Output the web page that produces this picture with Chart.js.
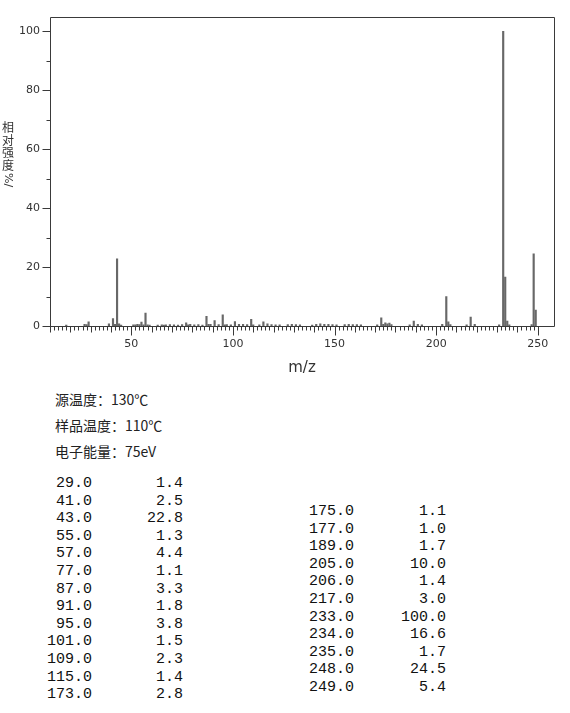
<!DOCTYPE html>
<html>
<head>
<meta charset="utf-8">
<script src="https://cdn.jsdelivr.net/npm/chart.js@4/dist/chart.umd.min.js"></script>
<style>
  body { margin: 0; background: #fff; }
  #page { position: relative; width: 570px; height: 713px; overflow: hidden; }
  #msChart { position: absolute; left: 0; top: 0; }
  .ytitle {
    position: absolute; left: 1px; top: 121px; width: 14px;
    font: 12px/12.5px "Noto Sans CJK SC"; color: #333; text-align: center;
  }
  .ytitle span { display: block; }
  .ytitle .rot { writing-mode: vertical-rl; margin: 2px auto 0; font-family: "DejaVu Sans"; font-size: 11px; line-height: 14px; }
  .cond { position: absolute; left: 55px; font: 14px/26px "Noto Sans CJK SC"; color: #222; }
  .col {
    position: absolute; text-align: right; white-space: pre;
    font: 15px/17.6px "Liberation Mono", monospace; color: #111;
  }
</style>
</head>
<body>
<div id="page">
  <canvas id="msChart" width="570" height="380"></canvas>
  <div class="ytitle"><span>相</span><span>对</span><span>强</span><span>度</span><span class="rot">%/</span></div>
  <div class="cond" style="top:386px">源温度：130℃</div>
  <div class="cond" style="top:412px">样品温度：110℃</div>
  <div class="cond" style="top:438px">电子能量：75eV</div>
  <div id="tableCols"></div>
</div>
<script>
// m/z and relative intensity (%)
const mzValues = [18, 27, 28, 29, 39, 41, 42, 43, 44, 45, 51, 52, 53, 54, 55, 56, 57, 58, 59,
  63, 65, 66, 67, 69, 71, 73, 75, 77, 78, 79, 81, 83, 85, 87, 88, 89, 91, 93, 95, 96, 97, 99,
  101, 103, 105, 107, 109, 110, 113, 115, 117, 119, 121, 123, 127, 129, 131, 133, 139, 141,
  143, 145, 147, 149, 151, 155, 157, 159, 161, 163, 171, 173, 174, 175, 176, 177, 178, 187,
  189, 191, 193, 203, 205, 206, 207, 215, 217, 219, 231, 233, 234, 235, 236, 247, 248, 249];
const relIntensity = [0.3, 0.6, 0.5, 1.4, 0.7, 2.5, 0.6, 22.8, 0.7, 0.3, 0.4, 0.4, 0.6, 0.5, 1.3, 0.4, 4.4, 0.4, 0.3,
  0.3, 0.4, 0.3, 0.4, 0.5, 0.4, 0.3, 0.5, 1.1, 0.4, 0.6, 0.4, 0.5, 0.3, 3.3, 0.6, 0.6, 1.8, 0.5, 3.8, 0.4, 0.5, 0.4,
  1.5, 0.6, 0.6, 0.5, 2.3, 0.4, 0.4, 1.4, 0.7, 0.5, 0.4, 0.4, 0.5, 0.6, 0.5, 0.4, 0.3, 0.6,
  0.7, 0.6, 0.6, 0.5, 0.4, 0.5, 0.6, 0.5, 0.5, 0.4, 0.4, 2.8, 0.6, 1.1, 0.7, 1.0, 0.5, 0.4,
  1.7, 0.6, 0.4, 0.6, 10.0, 1.4, 0.5, 0.4, 3.0, 0.6, 0.4, 100.0, 16.6, 1.7, 0.4, 0.5, 24.5, 5.4];

const xTickLabels = [50, 100, 150, 200, 250];
const yTickLabels = [0, 20, 40, 60, 80, 100];

// the printed peak list holds every peak of 1% or more
const listed = mzValues
  .map((m, i) => [m, relIntensity[i]])
  .filter((p) => p[1] >= 1.0);
const leftRows = listed.slice(0, 13);
const rightRows = listed.slice(13);

function addColumn(lines, right, top) {
  const d = document.createElement("div");
  d.className = "col";
  d.style.left = "0px";
  d.style.width = right + "px";
  d.style.top = top + "px";
  d.textContent = lines.join("\n");
  document.getElementById("tableCols").appendChild(d);
}
addColumn(leftRows.map((p) => p[0].toFixed(1)), 92, 475);
addColumn(leftRows.map((p) => p[1].toFixed(1)), 183, 475);
addColumn(rightRows.map((p) => p[0].toFixed(1)), 354, 503);
addColumn(rightRows.map((p) => p[1].toFixed(1)), 446, 503);

// box, baseline and the small tick marks
const frameTicks = {
  id: "frameTicks",
  afterDatasetsDraw(chart) {
    const { ctx, chartArea: a, scales } = chart;
    const x = scales.x;
    const y = scales.y;
    const y0 = Math.round(y.getPixelForValue(0)) + 0.5;
    const l = Math.round(a.left) + 0.5;
    const r = Math.round(a.right) + 0.5;
    const t = Math.round(a.top) + 0.5;
    ctx.save();
    ctx.strokeStyle = "#3a3a3a";
    ctx.lineWidth = 1;
    ctx.beginPath();
    ctx.moveTo(l, y0 + 4);
    ctx.lineTo(l, t);
    ctx.lineTo(r, t);
    ctx.lineTo(r, y0);
    ctx.moveTo(l, y0);
    ctx.lineTo(r, y0);
    for (let v = 10; v <= 250; v += 2) {
      const px = Math.round(x.getPixelForValue(v)) + 0.5;
      const len = v % 50 === 0 ? 9 : v % 10 === 0 ? 6 : 4;
      ctx.moveTo(px, y0);
      ctx.lineTo(px, y0 + len);
    }
    for (let v = 0; v <= 100; v += 10) {
      const py = Math.round(y.getPixelForValue(v)) + 0.5;
      const len = v % 20 === 0 ? 8 : 4;
      ctx.moveTo(l, py);
      ctx.lineTo(l - len, py);
    }
    ctx.stroke();
    ctx.restore();
  },
};

const tickFont = { family: "DejaVu Sans", size: 11 };

const ctx = document.getElementById("msChart").getContext("2d");
new Chart(ctx, {
  type: "bar",
  data: {
    datasets: [
      {
        data: mzValues.map((m, i) => ({ x: m, y: relIntensity[i] })),
        backgroundColor: "#686868",
        barThickness: 1.5,
      },
    ],
  },
  options: {
    responsive: false,
    animation: false,
    layout: { padding: { top: 5, right: 16, left: 0, bottom: 0 } },
    plugins: {
      legend: { display: false },
      tooltip: { enabled: false },
    },
    scales: {
      x: {
        type: "linear",
        min: 10,
        max: 258,
        offset: false,
        grid: { display: false, drawTicks: false },
        border: { display: false },
        afterBuildTicks: (s) => {
          s.ticks = xTickLabels.map((v) => ({ value: v }));
        },
        afterFit: (s) => {
          s.height = 54;
        },
        ticks: { padding: 12, color: "#333", font: tickFont, maxRotation: 0, autoSkip: false },
        title: {
          display: true,
          text: "m/z",
          color: "#333",
          font: { family: "DejaVu Sans", size: 15 },
          padding: { top: 0, bottom: 3 },
        },
      },
      y: {
        min: 0,
        max: 105,
        grid: { display: false, drawTicks: false },
        border: { display: false },
        afterBuildTicks: (s) => {
          s.ticks = yTickLabels.map((v) => ({ value: v }));
        },
        afterFit: (s) => {
          s.width = 50;
        },
        ticks: { padding: 10, color: "#333", font: tickFont },
      },
    },
  },
  plugins: [frameTicks],
});
</script>
</body>
</html>
